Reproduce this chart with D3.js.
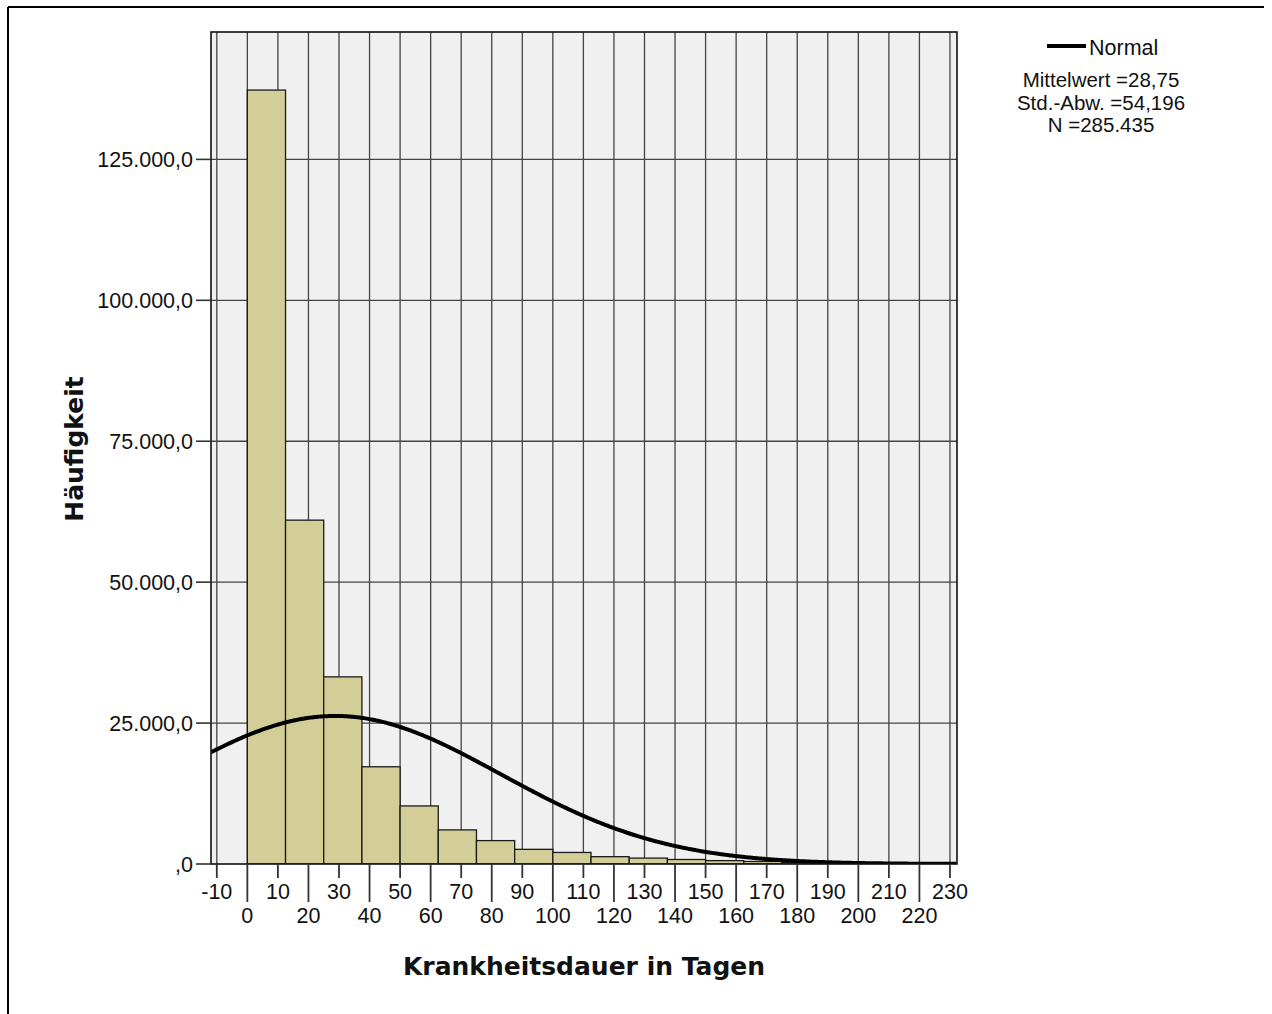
<!DOCTYPE html>
<html>
<head>
<meta charset="utf-8">
<script src="https://cdn.jsdelivr.net/npm/d3@7"></script>
<style>
html,body{margin:0;padding:0;background:#fff;}
svg{display:block;}
</style>
</head>
<body>
<svg id="chart" width="1272" height="1014"></svg>
<script>
// ---- data ----
const binStarts = [0, 12.5, 25, 37.5, 50, 62.5, 75, 87.5, 100, 112.5, 125, 137.5, 150, 162.5, 175, 187.5, 200, 212.5];
const binCounts = [137300, 61000, 33200, 17250, 10300, 6050, 4150, 2600, 2050, 1300, 1050, 800, 600, 450, 300, 220, 160, 120];
const binWidth = 12.5;
const normalMean = 28.75;
const normalSd = 54.196;
const normalN = 285435;
const yTicks = [0, 25000, 50000, 75000, 100000, 125000];
const yTickLabels = [",0", "25.000,0", "50.000,0", "75.000,0", "100.000,0", "125.000,0"];
const xTicksUpper = [-10, 10, 30, 50, 70, 90, 110, 130, 150, 170, 190, 210, 230];
const xTicksLower = [0, 20, 40, 60, 80, 100, 120, 140, 160, 180, 200, 220];
const xGrid = [-10, 0, 10, 20, 30, 40, 50, 60, 70, 80, 90, 100, 110, 120, 130, 140, 150, 160, 170, 180, 190, 200, 210, 220, 230];
const legendLines = ["Mittelwert =28,75", "Std.-Abw. =54,196", "N =285.435"];
const xTitle = "Krankheitsdauer in Tagen";
const yTitle = "Häufigkeit";

// ---- layout ----
const svg = d3.select("#chart");
const L = 211, R = 957, T = 32, B = 864;
const x = d3.scaleLinear().domain([-11.9, 232.3]).range([L, R]);
const y = d3.scaleLinear().domain([0, 147600]).range([B, T]);
const tickFont = "'Liberation Sans', Arial, sans-serif";
const titleFont = "'DejaVu Sans', Verdana, sans-serif";
const fs = 21.5;

// outer border (top & left)
svg.append("line").attr("x1", 8).attr("x2", 1264).attr("y1", 7).attr("y2", 7).attr("stroke", "#000").attr("stroke-width", 2);
svg.append("line").attr("x1", 8).attr("x2", 8).attr("y1", 7).attr("y2", 1014).attr("stroke", "#000").attr("stroke-width", 2);

// plot background
svg.append("rect").attr("x", L).attr("y", T).attr("width", R - L).attr("height", B - T).attr("fill", "#f0f0f0");

svg.append("defs").append("clipPath").attr("id", "clip")
  .append("rect").attr("x", L).attr("y", T).attr("width", R - L).attr("height", B - T);

// gridlines
const grid = svg.append("g");
grid.selectAll("line.v").data(xGrid).join("line")
  .attr("x1", d => x(d)).attr("x2", d => x(d)).attr("y1", T).attr("y2", B)
  .attr("stroke", "#444").attr("stroke-width", 1.3);
grid.selectAll("line.h").data(yTicks.filter(d => d > 0)).join("line")
  .attr("x1", L).attr("x2", R).attr("y1", d => y(d)).attr("y2", d => y(d))
  .attr("stroke", "#444").attr("stroke-width", 1.3);

// bars
svg.append("g").attr("clip-path", "url(#clip)")
  .selectAll("rect").data(binStarts.map((s, i) => ({s, c: binCounts[i]}))).join("rect")
  .attr("x", d => x(d.s)).attr("width", d => x(d.s + binWidth) - x(d.s))
  .attr("y", d => y(d.c)).attr("height", d => y(0) - y(d.c))
  .attr("fill", "#d3ce97").attr("stroke", "#1a1a1a").attr("stroke-width", 1.3);

// normal curve (fitted from stated mean, sd, N)
const xs = d3.range(-11.9, 232.31, 0.5);
const pdf = v => normalN * binWidth / (normalSd * Math.sqrt(2 * Math.PI)) * Math.exp(-0.5 * Math.pow((v - normalMean) / normalSd, 2));
svg.append("path").attr("clip-path", "url(#clip)")
  .datum(xs)
  .attr("d", d3.line().x(d => x(d)).y(d => y(pdf(d))).curve(d3.curveMonotoneX))
  .attr("fill", "none").attr("stroke", "#000").attr("stroke-width", 4);

// frame
svg.append("rect").attr("x", L).attr("y", T).attr("width", R - L).attr("height", B - T)
  .attr("fill", "none").attr("stroke", "#111").attr("stroke-width", 1.6);

// y axis ticks & labels
const yAx = svg.append("g");
yAx.selectAll("line").data(yTicks).join("line")
  .attr("x1", 196).attr("x2", L).attr("y1", d => y(d)).attr("y2", d => y(d))
  .attr("stroke", "#333").attr("stroke-width", 1.6);
yAx.selectAll("text").data(yTicks).join("text")
  .attr("x", 193).attr("y", d => y(d)).attr("dy", "0.36em")
  .attr("text-anchor", "end").attr("font-family", tickFont).attr("font-size", fs).attr("fill", "#111")
  .text((d, i) => yTickLabels[i]);

// x axis ticks & labels
const xAx = svg.append("g");
xAx.selectAll("line.u").data(xTicksUpper).join("line")
  .attr("x1", d => x(d)).attr("x2", d => x(d)).attr("y1", B).attr("y2", 878)
  .attr("stroke", "#333").attr("stroke-width", 1.8);
xAx.selectAll("line.l").data(xTicksLower).join("line")
  .attr("x1", d => x(d)).attr("x2", d => x(d)).attr("y1", B).attr("y2", 902)
  .attr("stroke", "#333").attr("stroke-width", 1.8);
xAx.selectAll("text.u").data(xTicksUpper).join("text")
  .attr("x", d => x(d)).attr("y", 899).attr("text-anchor", "middle")
  .attr("font-family", tickFont).attr("font-size", fs).attr("fill", "#111").text(d => d);
xAx.selectAll("text.l").data(xTicksLower).join("text")
  .attr("x", d => x(d)).attr("y", 923).attr("text-anchor", "middle")
  .attr("font-family", tickFont).attr("font-size", fs).attr("fill", "#111").text(d => d);

// axis titles
svg.append("text").attr("x", 584).attr("y", 975).attr("text-anchor", "middle")
  .attr("font-family", titleFont).attr("font-weight", "bold").attr("font-size", 25).attr("fill", "#111")
  .text(xTitle);
svg.append("text").attr("transform", "translate(83,449) rotate(-90)").attr("text-anchor", "middle")
  .attr("font-family", titleFont).attr("font-weight", "bold").attr("font-size", 25).attr("fill", "#111")
  .text(yTitle);

// legend
svg.append("line").attr("x1", 1047).attr("x2", 1086).attr("y1", 46).attr("y2", 46)
  .attr("stroke", "#000").attr("stroke-width", 4);
svg.append("text").attr("x", 1089).attr("y", 55).attr("font-family", tickFont).attr("font-size", fs).attr("fill", "#111").text("Normal");
svg.append("g").selectAll("text").data(legendLines).join("text")
  .attr("x", 1101).attr("y", (d, i) => 87 + i * 22.5).attr("text-anchor", "middle")
  .attr("font-family", tickFont).attr("font-size", 20.5).attr("fill", "#111").text(d => d);
</script>
</body>
</html>
